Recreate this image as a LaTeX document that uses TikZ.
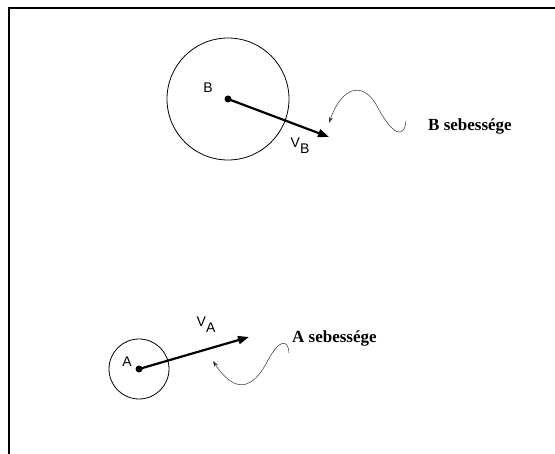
\documentclass[tikz,border=0pt]{standalone}
\usepackage{fontspec}
\setmainfont{Liberation Serif}
\setsansfont{Liberation Sans}
\usetikzlibrary{arrows.meta, positioning}

\begin{document}
\begin{tikzpicture}[x=1pt, y=-1pt,
    body/.style={draw, circle, line width=0.8pt, inner sep=0pt},
    velo/.style={-{Triangle[length=11pt, width=8pt]}, line width=2.2pt},
    wave/.style={-{Stealth[length=6pt, width=4pt]}, line width=0.5pt, black!80},
    lbl/.style={font=\sffamily\fontsize{14}{14}\selectfont, inner sep=0pt},
    note/.style={font=\bfseries\fontsize{17}{17}\selectfont, anchor=west, inner sep=0pt},
]
  \useasboundingbox (0,0) rectangle (555,454);
  \draw[line width=1.2pt] (9,454) -- (9,8) -- (555,8);

  % upper body
  \node[body, minimum size=122pt] (ballB) at (228,99) {};
  \fill (ballB.center) circle (3.5pt);
  \coordinate (tipB) at (329,137);
  \draw[velo] (ballB.center) -- (tipB);
  \node[lbl] (nameB) at (208,88) {B};
  \node[lbl] (velB) at (300,146) {V\raisebox{-6pt}{B}};
  \node[note] (textB) at (428,126) {B sebessége};
  \coordinate (waveB) at (406,121);
  \draw[wave] (waveB) .. controls (404,140) and (392,134) .. (378,108)
      .. controls (364,80) and (342,86) .. (329,123);

  % lower body
  \node[body, minimum size=60pt] (ballA) at (139,369) {};
  \fill (ballA.center) circle (3.5pt);
  \coordinate (tipA) at (249,337);
  \draw[velo] (ballA.center) -- (tipA);
  \node[lbl] (nameA) at (127,362) {A};
  \node[lbl] (velA) at (206,325) {V\raisebox{-6pt}{A}};
  \node[note] (textA) at (292,338) {A sebessége};
  \coordinate (waveA) at (289,353);
  \draw[wave] (waveA) .. controls (288,338) and (279,340) .. (268,360)
      .. controls (254,388) and (236,396) .. (213,361);
\end{tikzpicture}
\end{document}
